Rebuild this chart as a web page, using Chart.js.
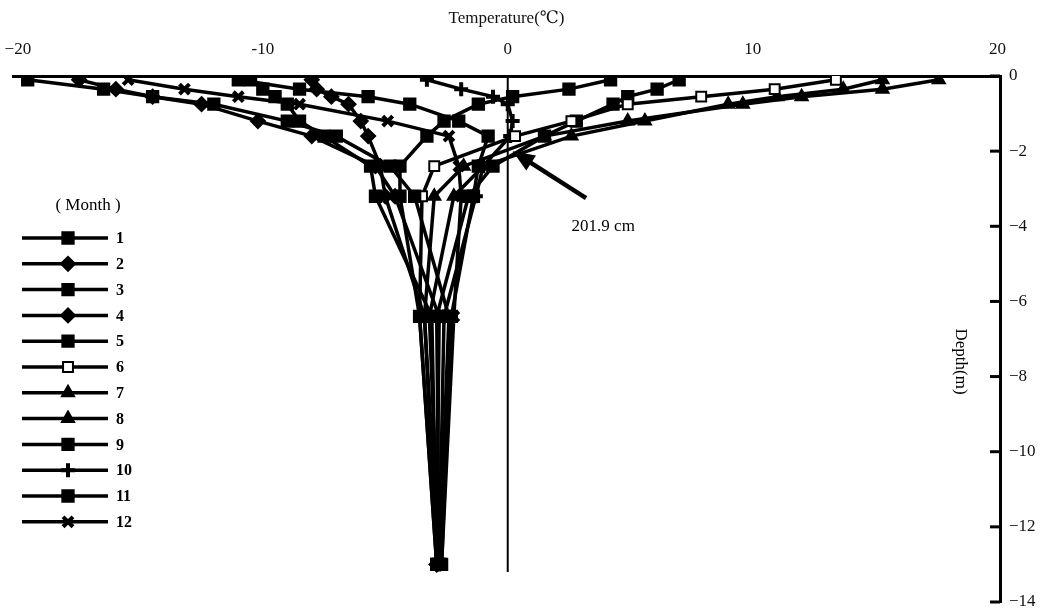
<!DOCTYPE html>
<html>
<head>
<title>Ground temperature profile</title>
<script src="https://cdn.jsdelivr.net/npm/chart.js"></script>
<style>
  body { margin: 0; background: #fff; }
  #wrap { width: 1041px; height: 609px; }
</style>
</head>
<body>
<div id="wrap"><canvas id="chart" width="1041" height="609"></canvas></div>
<script>
// depth of each measurement (m, negative = below surface)
const depths = [-0.1, -0.35, -0.55, -0.75, -1.2, -1.6, -2.4, -3.2, -6.4, -13];
const months = ['1', '2', '3', '4', '5', '6', '7', '8', '9', '10', '11', '12'];

// temperature (°C) at each depth, one array per month
const t1  = [-19.6, -16.5, -14.5, -12.0, -9.0, -7.0, -4.8, -3.8, -2.4, -2.8];
const t2  = [-17.5, -16.0, -14.5, -12.5, -10.2, -8.0, -5.4, -4.6, -2.8, -2.9];
const t3  = [-10.5, -10.0, -9.5, -9.0, -8.5, -7.5, -5.6, -5.4, -3.1, -2.9];
const t4  = [-8.0, -7.8, -7.2, -6.5, -6.0, -5.7, -5.2, -5.0, -3.4, -2.9];
const t5  = [4.2, 2.5, 0.2, -1.2, -2.6, -3.3, -4.4, -4.4, -3.6, -2.9];
const t6  = [13.4, 10.9, 7.9, 4.9, 2.6, 0.3, -3.0, -3.5, -3.6, -2.9];
const t7  = [17.6, 15.3, 12.0, 9.6, 4.9, 1.5, -1.8, -3.0, -3.4, -2.8];
const t8  = [15.3, 13.7, 11.0, 9.0, 5.6, 2.6, -1.0, -2.2, -3.2, -2.8];
const t9  = [7.0, 6.1, 4.9, 4.3, 2.8, 1.5, -0.6, -1.6, -2.9, -2.8];
const t10 = [-3.3, -1.9, -0.6, 0.0, 0.2, 0.1, -1.0, -1.3, -2.6, -2.8];
const t11 = [-11.0, -8.5, -5.7, -4.0, -2.0, -0.8, -1.2, -1.4, -2.3, -2.7];
const t12 = [-15.5, -13.2, -11.0, -8.5, -4.9, -2.4, -2.0, -1.9, -2.2, -2.7];
const temps = [t1, t2, t3, t4, t5, t6, t7, t8, t9, t10, t11, t12];

// axis ticks
const tempTicks = [-20, -10, 0, 10, 20];
const tempTickLabels = ['\u221220', '-10', '0', '10', '20'];
const depthTicks = [0, -2, -4, -6, -8, -10, -12, -14];

// the 0 °C reference line and the thaw depth note
const zeroLine = [0, -13.2];
const thawNote = '201.9 cm';

// marker look for each month
const markers = [
    { style: 'rect', radius: 8, fill: '#000' },
    { style: 'rectRot', radius: 7, fill: '#000' },
    { style: 'rect', radius: 8, fill: '#000' },
    { style: 'rectRot', radius: 7, fill: '#000' },
    { style: 'rect', radius: 8, fill: '#000' },
    { style: 'rect', radius: 7, fill: '#fff' },
    { style: 'triangle', radius: 7, fill: '#000' },
    { style: 'triangle', radius: 7, fill: '#000' },
    { style: 'rect', radius: 8, fill: '#000' },
    { style: 'cross', radius: 7, fill: '#000' },
    { style: 'rect', radius: 8, fill: '#000' },
    { style: 'crossRot', radius: 7, fill: '#000' }
];

const serif = '"Liberation Serif", "DejaVu Serif", serif';

const datasets = [{
    label: 'zero',
    data: zeroLine.map(d => ({ x: 0, y: d })),
    showLine: true,
    borderColor: '#000',
    borderWidth: 2,
    pointRadius: 0
}];
months.forEach((m, i) => {
    datasets.push({
        label: m,
        data: depths.map((d, j) => ({ x: temps[i][j], y: d })),
        showLine: true,
        borderColor: '#000',
        borderWidth: 3.5,
        pointStyle: markers[i].style,
        pointRadius: markers[i].radius,
        pointBackgroundColor: markers[i].fill,
        pointBorderColor: '#000',
        pointBorderWidth: markers[i].style.startsWith('cross') ? 4 : 2
    });
});

// draws the inner depth ticks, the depth title, the arrow note and the month key
const overlay = {
    id: 'overlay',
    afterDatasetsDraw(chart) {
        const { ctx, scales: { x, y } } = chart;
        ctx.save();
        ctx.strokeStyle = '#000';
        ctx.fillStyle = '#000';

        // ticks on the inner side of the depth axis
        ctx.lineWidth = 3;
        depthTicks.forEach(v => {
            const py = y.getPixelForValue(v);
            ctx.beginPath();
            ctx.moveTo(x.right - 10, py);
            ctx.lineTo(x.right, py);
            ctx.stroke();
        });

        // Depth(m), reading top to bottom
        ctx.save();
        ctx.translate(x.getPixelForValue(18.5), y.getPixelForValue(-7.6));
        ctx.rotate(Math.PI / 2);
        ctx.font = '17px ' + serif;
        ctx.textAlign = 'center';
        ctx.textBaseline = 'middle';
        ctx.fillText('Depth(m)', 0, 0);
        ctx.restore();

        // arrow to the thaw depth
        const tipX = x.getPixelForValue(0.2), tipY = y.getPixelForValue(-2.0);
        const tailX = x.getPixelForValue(3.2), tailY = y.getPixelForValue(-3.25);
        const ang = Math.atan2(tipY - tailY, tipX - tailX);
        ctx.lineWidth = 4.5;
        ctx.beginPath();
        ctx.moveTo(tailX, tailY);
        ctx.lineTo(tipX - 12 * Math.cos(ang), tipY - 12 * Math.sin(ang));
        ctx.stroke();
        ctx.beginPath();
        ctx.moveTo(tipX, tipY);
        ctx.lineTo(tipX - 22 * Math.cos(ang) + 9 * Math.sin(ang), tipY - 22 * Math.sin(ang) - 9 * Math.cos(ang));
        ctx.lineTo(tipX - 22 * Math.cos(ang) - 9 * Math.sin(ang), tipY - 22 * Math.sin(ang) + 9 * Math.cos(ang));
        ctx.closePath();
        ctx.fill();
        ctx.font = '17px ' + serif;
        ctx.textAlign = 'center';
        ctx.textBaseline = 'middle';
        ctx.fillText(thawNote, x.getPixelForValue(3.9), y.getPixelForValue(-4.0));

        // month key
        ctx.font = '17px ' + serif;
        ctx.fillText('( Month )', 88, 206);
        ctx.textAlign = 'left';
        ctx.font = 'bold 16px ' + serif;
        months.forEach((m, i) => {
            const ly = 238 + i * 25.8;
            ctx.lineWidth = 3.5;
            ctx.strokeStyle = '#000';
            ctx.beginPath();
            ctx.moveTo(22, ly);
            ctx.lineTo(108, ly);
            ctx.stroke();
            ctx.fillStyle = markers[i].fill;
            ctx.lineWidth = markers[i].style.startsWith('cross') ? 4 : 2;
            Chart.helpers.drawPoint(ctx, {
                pointStyle: markers[i].style,
                radius: markers[i].radius,
                rotation: 0,
                borderWidth: ctx.lineWidth
            }, 68, ly);
            ctx.fillStyle = '#000';
            ctx.fillText(m, 116, ly + 1);
        });
        ctx.restore();
    }
};

new Chart(document.getElementById('chart'), {
    type: 'scatter',
    data: { datasets: datasets },
    options: {
        responsive: false,
        animation: false,
        layout: { autoPadding: false, padding: { left: 13, bottom: 7, top: 0, right: 0 } },
        plugins: {
            legend: { display: false },
            tooltip: { enabled: false }
        },
        scales: {
            x: {
                type: 'linear',
                position: 'top',
                min: -20.2,
                max: 20.1,
                afterBuildTicks: scale => { scale.ticks = tempTicks.map(v => ({ value: v })); },
                afterFit: scale => {
                    scale.height = 76;
                    scale.paddingLeft = 0;
                    scale.paddingRight = 0;
                },
                grid: { display: false, drawTicks: false },
                border: { display: true, color: '#000', width: 3 },
                ticks: {
                    padding: 16,
                    color: '#111',
                    font: { family: serif, size: 17 },
                    callback: v => tempTickLabels[tempTicks.indexOf(v)]
                },
                title: {
                    display: true,
                    text: 'Temperature(\u2103)',
                    color: '#111',
                    padding: { top: 8, bottom: 0 },
                    font: { family: serif, size: 17 }
                }
            },
            y: {
                type: 'linear',
                position: 'right',
                min: -14,
                max: 0,
                afterBuildTicks: scale => { scale.ticks = depthTicks.map(v => ({ value: v })); },
                afterFit: scale => {
                    scale.width = 41;
                    scale.paddingTop = 0;
                    scale.paddingBottom = 0;
                },
                grid: { display: false, drawTicks: false },
                border: { display: true, color: '#000', width: 3 },
                ticks: {
                    padding: 9,
                    color: '#111',
                    font: { family: serif, size: 17 },
                    callback: v => v === 0 ? '0' : '\u2212' + Math.abs(v)
                }
            }
        }
    },
    plugins: [overlay]
});
</script>
</body>
</html>
